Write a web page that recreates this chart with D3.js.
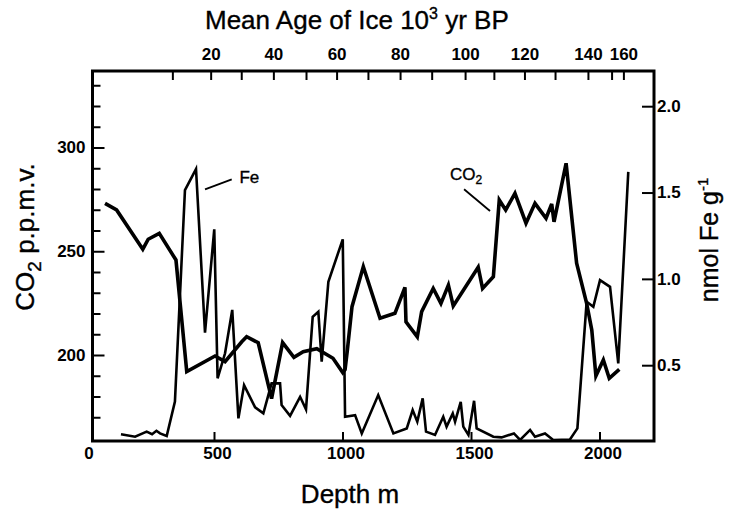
<!DOCTYPE html>
<html><head><meta charset="utf-8">
<script src="https://cdn.jsdelivr.net/npm/d3@7"></script>
<style>
body{margin:0;background:#fff}
text{font-family:"Liberation Sans",Arial,Helvetica,sans-serif;fill:#000}
.heavy{stroke:#000;stroke-width:0.35px}
</style>
</head><body>
<svg id="chart" width="730" height="516"></svg>
<script>
// ---- data ----
const co2Depth  = [76,121,223,244,287,352,394,504,543,608,627,672,724,767,811,847,900,963,1001,1010,1019,1037,1081,1146,1204,1243,1247,1291,1308,1353,1383,1412,1431,1496,1528,1545,1587,1610,1635,1671,1714,1749,1792,1814,1823,1870,1911,1950,1970,1986,2015,2038,2077];
const co2Values = [273.1,269.9,251,255.8,258.6,245.8,192,199.5,196.8,206.4,208.8,205.9,179,206,198.9,201.6,203,198.4,191.5,193,202.4,223.3,242.6,217.7,220.1,232.6,216,208.8,220.9,232.1,224.9,233.7,223.6,236.1,242.3,232.1,237.7,274.7,269.9,277.9,263.5,273.1,265.9,272.8,264.2,292.4,244.2,224.9,212,189.9,197.6,188.8,193.1];

const feDepth  = [138,193,238,259,276,290,316,348,387,430,465,501,514,543,571,595,617,660,692,724,757,763,796,835,858,884,906,919,945,1001,1010,1049,1075,1139,1198,1250,1273,1291,1312,1325,1360,1392,1405,1429,1438,1460,1470,1490,1512,1522,1587,1619,1667,1691,1730,1749,1788,1820,1885,1914,1950,1976,2002,2041,2073,2112];
const feValues = [0.10,0.086,0.115,0.10,0.12,0.105,0.09,0.29,1.514,1.636,0.688,1.287,0.424,0.569,0.82,0.192,0.385,0.256,0.221,0.395,0.395,0.269,0.207,0.317,0.244,0.78,0.81,0.52,0.983,1.229,0.201,0.211,0.105,0.327,0.105,0.134,0.240,0.173,0.308,0.115,0.096,0.201,0.144,0.221,0.173,0.288,0.144,0.096,0.294,0.134,0.086,0.082,0.105,0.067,0.125,0.086,0.105,0.067,0.07,0.134,0.867,0.838,0.993,0.954,0.51,1.62];

const depthTicks = [0,500,1000,1500,2000];
const co2MajorTicks = [200,250,300];
const co2MinorTicks = [170,180,190,210,220,230,240,260,270,280,290,310,320,330];
const feTicks = [0.5,1.0,1.5,2.0];
const ageTicks = [10,20,30,40,50,60,70,80,90,100,110,120,130,140,150,160];
const ageTickDepths = [338,487,606,731,858,977,1099,1224,1347,1477,1589,1708,1827,1955,2047,2093];
const ageLabelled = [20,40,60,80,100,120,140,160];

// ---- layout ----
const svg = d3.select("#chart");
const frame = {left:92.5, right:654, top:71, bottom:441};
const x = d3.scaleLinear().domain([0,2000]).range([85.5,599.5]);
const yCO2 = d3.scaleLinear().domain([200,300]).range([355,147.5]);
const yFe = d3.scaleLinear().domain([0.5,2.0]).range([365.2,106.2]);
const ageX = d3.scaleLinear().domain(ageTicks).range(ageTickDepths.map(d => x(d)));

const tickFont = g => g.selectAll("text")
  .style("font-size","17px").style("font-weight","bold")
  .style("font-family",'"Liberation Sans",Arial,sans-serif');
const clean = g => { g.select(".domain").remove(); g.selectAll("line").attr("stroke","#000").attr("stroke-width",2); };

// left axis minor + major
svg.append("g").attr("transform",`translate(${frame.left},0)`)
  .call(d3.axisLeft(yCO2).tickValues(co2MinorTicks).tickSize(-8).tickFormat(""))
  .call(clean);
svg.append("g").attr("transform",`translate(${frame.left},0)`)
  .call(d3.axisLeft(yCO2).tickValues(co2MajorTicks).tickSize(-12).tickPadding(7).tickFormat(d3.format("d")))
  .call(clean).call(tickFont);

// right axis
svg.append("g").attr("transform",`translate(${frame.right},0)`)
  .call(d3.axisRight(yFe).tickValues(feTicks).tickSize(-12).tickPadding(3).tickFormat(d3.format(".1f")))
  .call(clean).call(tickFont);

// bottom axis
const bottom = svg.append("g").attr("transform",`translate(0,${frame.bottom})`)
  .call(d3.axisBottom(x).tickValues(depthTicks).tickSize(-9).tickPadding(6).tickFormat(d3.format("d")))
  .call(clean).call(tickFont);
bottom.selectAll(".tick").filter(d => d === 0).select("line").remove();
bottom.selectAll("text").attr("dx", 3);

// top axis
svg.append("g").attr("transform",`translate(0,${frame.top})`)
  .call(d3.axisTop(ageX).tickValues(ageTicks).tickSize(-9).tickPadding(11)
    .tickFormat(d => ageLabelled.includes(d) ? d : ""))
  .call(clean).call(tickFont);

// frame
svg.append("rect").attr("x",frame.left).attr("y",frame.top)
  .attr("width",frame.right-frame.left).attr("height",frame.bottom-frame.top)
  .attr("fill","none").attr("stroke","#000").attr("stroke-width",3);

// lines
const co2Line = d3.line().x((d,i)=>x(co2Depth[i])).y(d=>yCO2(d));
const feLine = d3.line().x((d,i)=>x(feDepth[i])).y(d=>yFe(d));
svg.append("path").attr("d",feLine(feValues)).attr("fill","none")
  .attr("stroke","#000").attr("stroke-width",2.6);
svg.append("path").attr("d",co2Line(co2Values)).attr("fill","none")
  .attr("stroke","#000").attr("stroke-width",3.6);

// annotations (data units)
const feLeader = [[465,1.518],[569,1.576]];
const feLabelPos = [599,1.555];
const co2Leader = [[1473,279.9],[1574,269.4]];
const co2LabelPos = [1418,284.3];
svg.append("line").attr("x1",x(feLeader[0][0])).attr("y1",yFe(feLeader[0][1]))
  .attr("x2",x(feLeader[1][0])).attr("y2",yFe(feLeader[1][1]))
  .attr("stroke","#000").attr("stroke-width",1.8);
svg.append("text").attr("class","heavy").attr("x",x(feLabelPos[0])).attr("y",yFe(feLabelPos[1]))
  .style("font-size","17px").text("Fe");
svg.append("line").attr("x1",x(co2Leader[0][0])).attr("y1",yCO2(co2Leader[0][1]))
  .attr("x2",x(co2Leader[1][0])).attr("y2",yCO2(co2Leader[1][1]))
  .attr("stroke","#000").attr("stroke-width",1.8);
const co2t = svg.append("text").attr("class","heavy").attr("x",x(co2LabelPos[0])).attr("y",yCO2(co2LabelPos[1]))
  .style("font-size","17px");
co2t.append("tspan").text("CO");
co2t.append("tspan").attr("dy",4).style("font-size","12px").text("2");

// titles
const title = svg.append("text").attr("class","heavy").attr("x",205).attr("y",29).style("font-size","26px");
title.append("tspan").text("Mean Age of Ice 10");
title.append("tspan").attr("dy",-10).style("font-size","16px").text("3");
title.append("tspan").attr("dy",10).text(" yr BP");

svg.append("text").attr("class","heavy").attr("x",350).attr("y",503).attr("text-anchor","middle")
  .style("font-size","26px").text("Depth m");

const lt = svg.append("text").attr("class","heavy").attr("transform","translate(34,237) rotate(-90)")
  .attr("text-anchor","middle").style("font-size","26px");
lt.append("tspan").text("CO");
lt.append("tspan").attr("dy",7).style("font-size","19px").text("2");
lt.append("tspan").attr("dy",-7).text(" p.p.m.v.");

const rt = svg.append("text").attr("class","heavy").attr("transform","translate(718,240) rotate(-90)")
  .attr("text-anchor","middle").style("font-size","25px");
rt.append("tspan").text("nmol Fe g");
rt.append("tspan").attr("dy",-10).style("font-size","15px").text("-1");
</script>
</body></html>
